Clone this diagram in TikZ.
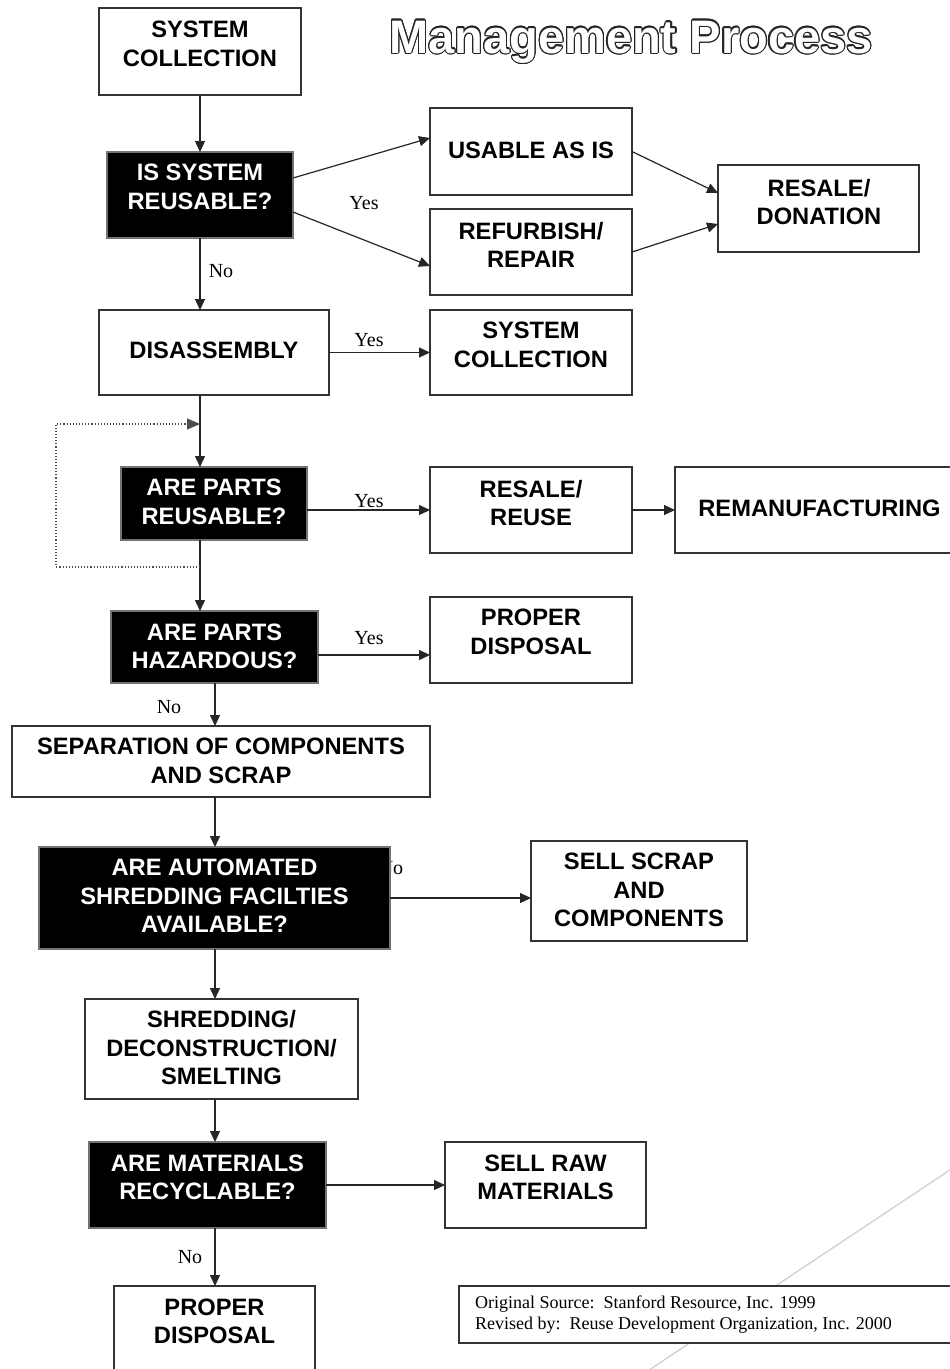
\documentclass[tikz,border=0pt]{standalone}
\usepackage{fontspec}
\setmainfont{Liberation Serif}
\newfontfamily\hvf{Liberation Sans}
\usepackage{contour}
\contourlength{1.2pt}
\usetikzlibrary{arrows.meta,fit,calc}
\begin{document}
\begin{tikzpicture}[x=1pt,y=-1pt,
  wbox/.style={draw=black!80,line width=1.3pt,fill=white,inner sep=0pt,outer sep=0pt},
  bbox/.style={draw=black!55,line width=1.3pt,fill=black,inner sep=0pt,outer sep=0pt},
  btxt/.style={font=\hvf\bfseries\fontsize{23.7}{28.5}\selectfont,align=center,inner sep=0pt},
  wtxt/.style={btxt,text=white},
  lbl/.style={font=\fontsize{20}{24}\selectfont,inner sep=0pt},
  arr/.style={draw=black!85,line width=1.2pt,-{Triangle[length=11pt,width=10pt]}},
  loopline/.style={draw=black!70,line width=1.1pt,dotted,-{Triangle[length=13pt,width=11pt]}},
  diag/.style={draw=black!18,line width=1.3pt}]
\clip (0,0) rectangle (950,1369);
\fill[white] (0,0) rectangle (950,1369);

% title
\node[font=\hvf\bfseries\fontsize{47}{50}\selectfont,text=white,anchor=base,inner sep=0pt] (title) at (631,53) {\contour{black!85}{Management Process}};

% diagonal decoration (behind footer)
\draw[diag] (960,1163.3) -- (640,1376);

% column coordinates
\coordinate (colA) at (200,0);
\coordinate (colB) at (215,0);

% partially hidden label (under the black box)
\node[lbl] (lno2) at (391,868) {No};

% boxes
\node[wbox,fit={(99,8)(301,95)}] (sc1) {};
\node[bbox,fit={(107,152)(293,238)}] (isr) {};
\node[wbox,fit={(430,108)(632,195)}] (usa) {};
\node[wbox,fit={(430,209)(632,295)}] (ref) {};
\node[wbox,fit={(718,165)(919,252)}] (rd) {};
\node[wbox,fit={(99,310)(329,395)}] (dis) {};
\node[wbox,fit={(430,310)(632,395)}] (sc2) {};
\node[bbox,fit={(121,467)(307,540)}] (pr) {};
\node[wbox,fit={(430,467)(632,553)}] (rr) {};
\node[wbox,fit={(675,467)(964,553)}] (rem) {};
\node[bbox,fit={(111,611)(318,683)}] (ph) {};
\node[wbox,fit={(430,597)(632,683)}] (pd) {};
\node[wbox,fit={(12,726)(430,797)}] (sep) {};
\node[bbox,fit={(39,847)(390,949)}] (auto) {};
\node[wbox,fit={(531,841)(747,941)}] (ssc) {};
\node[wbox,fit={(85,999)(358,1099)}] (shr) {};
\node[bbox,fit={(89,1142)(326,1228)}] (rec) {};
\node[wbox,fit={(445,1142)(646,1228)}] (srm) {};
\node[wbox,fit={(114,1286)(315,1390)}] (pd2) {};
\node[wbox,fit={(459,1286)(1000,1343)}] (foot) {};

% box texts
\node[btxt] (sc1t) at (200,44) {SYSTEM\\COLLECTION};
\node[wtxt] (isrt) at (200,187) {IS SYSTEM\\REUSABLE?};
\node[btxt] (usat) at (531,150) {USABLE AS IS};
\node[btxt] (reft) at (531,245) {REFURBISH/\\REPAIR};
\node[btxt] (rdt) at (819,202) {RESALE/\\DONATION};
\node[btxt] (dist) at (214,350) {DISASSEMBLY};
\node[btxt] (sc2t) at (531,345) {SYSTEM\\COLLECTION};
\node[wtxt] (prt) at (214,502) {ARE PARTS\\REUSABLE?};
\node[btxt] (rrt) at (531,503) {RESALE/\\REUSE};
\node[btxt] (remt) at (819.5,508) {REMANUFACTURING};
\node[wtxt] (pht) at (214.5,646.5) {ARE PARTS\\HAZARDOUS?};
\node[btxt] (pdt) at (531,632) {PROPER\\DISPOSAL};
\node[btxt] (sept) at (221,761) {SEPARATION OF COMPONENTS\\AND SCRAP};
\node[wtxt] (autot) at (214.5,896) {ARE AUTOMATED\\SHREDDING FACILTIES\\AVAILABLE?};
\node[btxt] (ssct) at (639,890) {SELL SCRAP\\AND\\COMPONENTS};
\node[btxt] (shrt) at (221.5,1048) {SHREDDING/\\DECONSTRUCTION/\\SMELTING};
\node[wtxt] (rect) at (207.5,1177.5) {ARE MATERIALS\\RECYCLABLE?};
\node[btxt] (srmt) at (545.5,1177.5) {SELL RAW\\MATERIALS};
\node[btxt] (pd2t) at (214.5,1321.5) {PROPER\\DISPOSAL};
\node[font=\fontsize{18}{21}\selectfont,align=left,anchor=west,inner sep=0pt] (foott) at (475,1315) {Original Source:\ \ Stanford Resource, Inc. 1999\\Revised by:\ \ Reuse Development Organization, Inc. 2000};

% connectors
\draw[arr] (sc1.south -| colA) -- (isr.north -| colA);
\draw[arr] ([yshift=17pt]isr.east) -- ([yshift=13.5pt]usa.west);
\draw[arr] ([yshift=-17pt]isr.east) -- ([yshift=-14pt]ref.west);
\draw[arr] (usa.east) -- ([yshift=15.5pt]rd.west);
\draw[arr] (ref.east) -- ([yshift=-15.5pt]rd.west);
\draw[arr] (isr.south -| colA) -- (dis.north -| colA);
\draw[arr] (dis.east) -- (sc2.west);
\draw[arr] (dis.south -| colA) -- (pr.north -| colA);
\draw[arr] (pr.south -| colA) -- (ph.north -| colA);
\coordinate (lp1) at (200,567);
\coordinate (lp2) at (200,424);
\draw[loopline] (lp1) -- (56,567) |- (lp2);
\draw[arr] (rr.west -| pr.east) -- (rr.west);
\draw[arr] (rr.east) -- (rem.west |- rr.east);
\draw[arr] ([yshift=-8pt]ph.east) -- ([yshift=-8pt]ph.east -| pd.west);
\draw[arr] (ph.south -| colB) -- (sep.north -| colB);
\draw[arr] (sep.south -| colB) -- (auto.north -| colB);
\draw[arr] (auto.east) -- (auto.east -| ssc.west);
\draw[arr] (auto.south -| colB) -- (shr.north -| colB);
\draw[arr] (shr.south -| colB) -- (rec.north -| colB);
\draw[arr] (rec.east) -- (srm.west);
\draw[arr] (rec.south -| colB) -- (pd2.north -| colB);

% labels
\node[lbl] (ly1) at (364,203) {Yes};
\node[lbl] (ln1) at (221,271) {No};
\node[lbl] (ly2) at (369,340) {Yes};
\node[lbl] (ly3) at (369,501) {Yes};
\node[lbl] (ly4) at (369,638) {Yes};
\node[lbl] (ln3) at (169,707) {No};
\node[lbl] (ln4) at (190,1257) {No};
\end{tikzpicture}
\end{document}
